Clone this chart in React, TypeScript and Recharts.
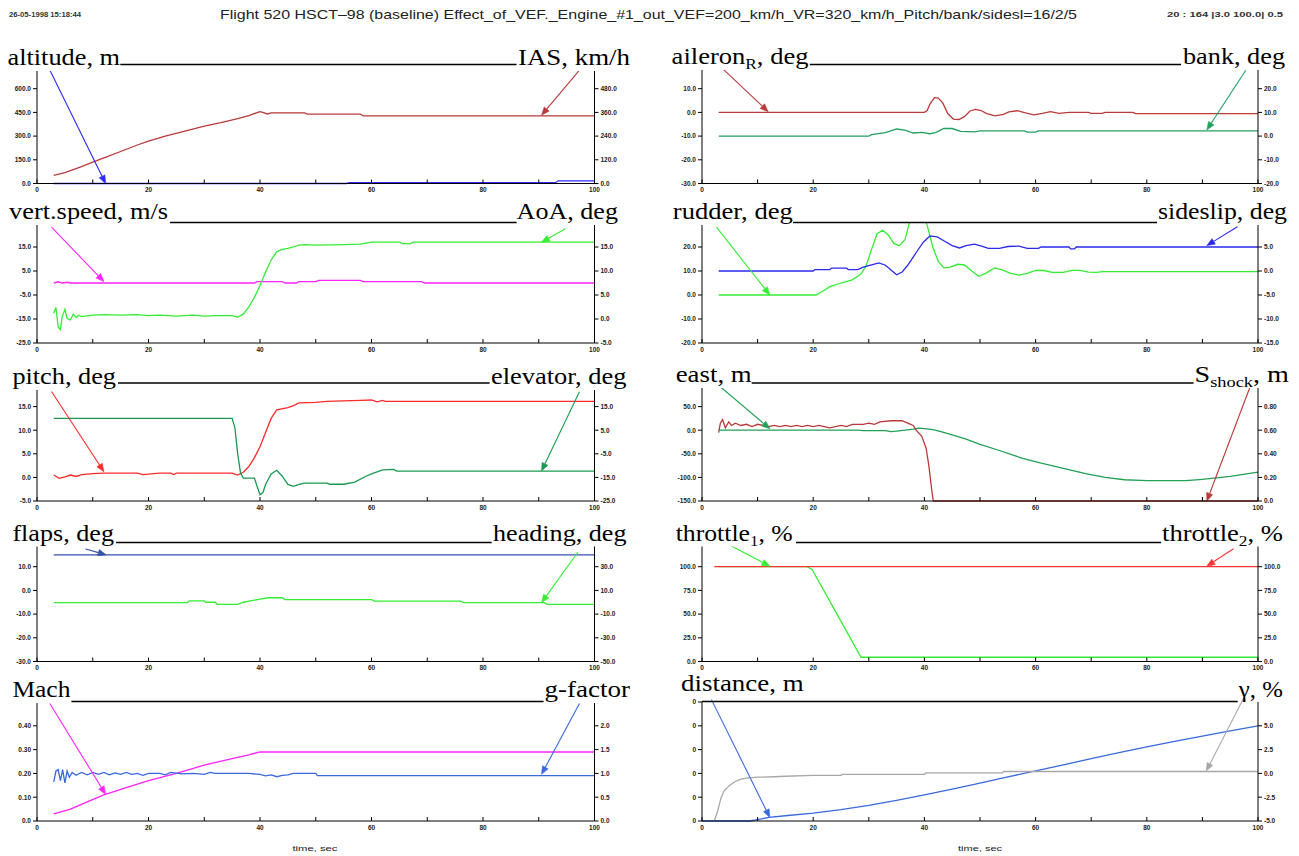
import React from "react";
import { LineChart, Line, XAxis, YAxis, ReferenceLine } from "recharts";

type Pts = [number, number][];

// time (s) / value pairs
const altitude: Pts = [[3, 0], [55.5, 0], [56, 5], [93, 5], [93.5, 17], [100, 17]];
const ias: Pts = [[3, 41], [5, 55], [8, 85], [10, 108], [12, 130], [15, 162], [18, 195], [20, 215], [23, 240], [26, 262], [30, 290], [33, 308], [36, 328], [38, 344], [40, 364], [40.5, 360], [41.3, 352], [42, 358], [48, 358], [48.5, 351], [58, 351], [58.5, 342], [100, 342]];
const vspeed: Pts = [[3, 0], [3.8, 0.5], [4.5, 0], [5.5, 0.3], [6, 0], [39, 0], [39.5, 0.6], [44, 0.6], [44.5, 0], [46.5, 0], [47, 0.6], [50, 0.6], [50.5, 1.1], [58, 1.1], [58.5, 0.6], [69, 0.6], [69.5, 0], [100, 0]];
const aoa: Pts = [[3, 1.2], [3.4, 2.4], [3.8, -1.7], [4.2, -2.2], [4.5, 0.4], [5, 2.0], [5.4, 0.1], [6, -0.2], [6.5, 1.0], [7, 0.3], [7.5, 0.8], [8, 0.5], [10, 0.8], [12, 0.9], [15, 0.8], [18, 0.9], [20, 0.7], [22, 0.8], [25, 0.6], [28, 0.8], [30, 0.6], [32, 0.7], [35, 0.7], [36, 0.4], [37, 1.0], [38, 2.5], [39, 4.5], [40, 7.0], [41, 9.8], [42, 12.3], [43, 14.0], [44, 14.5], [45, 14.7], [46, 15.0], [47, 15.4], [48, 15.5], [50, 15.4], [55, 15.5], [58, 15.6], [60, 16.0], [65, 16.0], [65.5, 15.7], [67, 15.7], [67.5, 16.0], [100, 16.0]];
const pitch: Pts = [[3, 0.5], [4, -0.2], [5, 0.1], [6, 0.5], [7, 0.2], [8, 0.6], [10, 0.8], [12, 0.9], [18, 0.9], [19, 0.6], [22, 0.9], [24, 0.9], [24.5, 0.6], [25, 0.9], [35, 0.9], [36, 0.5], [37, 1.1], [38, 2.3], [39, 4.2], [40, 6.5], [41, 9.5], [42, 12.5], [43, 14.3], [45, 14.8], [46, 15.2], [47, 15.8], [50, 15.9], [52, 16.1], [58, 16.3], [60, 16.4], [61, 16.0], [62, 16.3], [62.5, 16.1], [100, 16.1]];
const elevator: Pts = [[3, 10], [35, 10], [35.5, 6], [36, -5], [36.5, -13], [37, -15.3], [39, -15.3], [39.5, -19], [40, -22.3], [40.5, -21.5], [41, -18], [42, -13.5], [43, -12], [44, -14.5], [45, -18], [46, -18.8], [47, -18], [48, -17.4], [52, -17.4], [52.5, -17.9], [55, -17.9], [57, -17], [59, -14.5], [60, -13.5], [62, -11.8], [64, -11.6], [64.5, -12.3], [100, -12.3]];
const flaps: Pts = [[3, 15], [100, 15]];
const heading: Pts = [[3, -0.3], [27, -0.3], [27.3, 1.2], [30, 1.2], [30.3, 0], [32, 0], [32.3, -1.8], [36, -1.8], [37, 0], [38.5, 1.3], [40, 2.7], [41.5, 3.8], [44, 3.8], [44.5, 2.3], [60, 2.3], [60.5, 1.0], [76, 1.0], [76.5, -0.3], [91, -0.3], [91.5, -1.8], [100, -1.8]];
const mach: Pts = [[3, 0.03], [6, 0.05], [9, 0.08], [12, 0.11], [16, 0.14], [20, 0.17], [25, 0.2], [30, 0.235], [35, 0.262], [38, 0.278], [40, 0.29], [100, 0.29]];
const gfactor: Pts = [[3, 0.82], [3.4, 1.05], [3.8, 1.08], [4.2, 0.85], [4.6, 1.08], [5, 0.8], [5.4, 1.05], [5.8, 0.92], [6.3, 1.02], [7, 0.96], [8, 1.02], [9, 0.97], [10, 1.02], [11, 0.98], [12, 1.02], [13, 0.97], [14, 1.01], [15, 0.98], [16, 1.02], [17, 0.98], [18, 1.0], [19, 0.96], [20, 1.0], [22, 1.0], [23, 0.97], [24, 1.02], [26, 0.99], [28, 1.0], [30, 0.98], [31, 1.02], [32, 1.0], [38, 1.0], [40, 0.98], [41, 0.95], [42, 0.97], [43, 0.93], [44, 0.96], [45, 0.97], [46, 1.0], [50, 1.0], [50.3, 0.955], [100, 0.955]];
const aileron: Pts = [[3, 0], [40, 0], [40.5, 0.8], [41, 3.5], [41.8, 6.2], [42.5, 6.0], [43.3, 4], [44.2, -0.5], [45.2, -2.8], [46.2, -3.0], [47.2, -1.8], [48.2, 0.6], [49.2, 1.3], [50.2, 0.8], [51.2, -0.5], [52.7, -1.5], [54.2, -0.8], [55.2, 0.2], [56.7, 0.7], [58.2, -0.2], [59.7, -1.0], [61.2, -0.4], [62.7, 0.3], [64.2, -0.4], [66, 0], [69.5, 0], [70, -0.4], [72, -0.4], [72.5, 0], [77.5, 0], [78, -0.5], [100, -0.5]];
const bank: Pts = [[3, 0], [30, 0], [30.5, 0.6], [33, 1.5], [35, 3.0], [36.5, 2.5], [38, 1.3], [39.5, 1.6], [41, 1.0], [42, 1.5], [43.5, 3.2], [45, 3.2], [46.5, 2.0], [49, 1.8], [50, 2.2], [58, 2.2], [58.5, 1.7], [60, 1.7], [60.5, 2.2], [100, 2.2]];
const rudder: Pts = [[3, 0], [20.5, 0], [22, 2], [23, 3.5], [25, 5], [27, 6.3], [28.5, 8.5], [29.5, 12], [30.5, 19], [31.5, 25.5], [32.5, 27], [33.5, 25], [34.5, 21.5], [35.5, 20.5], [36.5, 23], [37.3, 30], [38, 36], [39.5, 36], [40.5, 29], [41.5, 20], [42.5, 14], [43.5, 11.3], [44.5, 11.5], [46, 12.8], [47.2, 12.5], [48.5, 10], [49.8, 7.8], [51, 9], [52.6, 11.3], [54, 10.5], [55.5, 9], [57, 8.3], [58.5, 9], [60, 10.3], [61.5, 10.2], [63, 9.4], [65, 9.4], [66.5, 10.3], [68, 10.3], [69.5, 9.5], [71, 9.4], [72, 9.7], [100, 9.7]];
const sideslip: Pts = [[3, 0], [20, 0], [20.3, 0.3], [23, 0.3], [23.3, 0.6], [26, 0.6], [26.3, 0.3], [28, 0.3], [29, 0.8], [30.5, 1.3], [31.8, 1.7], [33, 1.2], [34.2, 0], [35, -0.8], [36, -0.2], [37, 1.2], [38.5, 3.8], [39.8, 6], [41, 7.3], [42.3, 7.1], [43.5, 6.3], [45, 5.3], [46.3, 4.8], [47.5, 5.3], [49, 5.6], [50.3, 5.2], [51.5, 4.7], [53.5, 4.7], [55, 5.1], [57, 5.2], [58.5, 4.7], [60.5, 4.7], [61, 5.0], [66, 5.0], [66.3, 4.6], [67, 4.6], [67.3, 5.0], [100, 5.0]];
const east: Pts = [[3, 0], [28, 0], [29, -0.8], [33, -0.8], [34, -3], [35, -2], [36.5, 0], [38, 2.5], [39, 4.5], [40, 3.5], [41.5, 1], [43, -3], [45, -10], [47.5, -19], [50, -30], [53.5, -43], [57.5, -59], [61, -70], [65, -81], [69, -92], [72.5, -100], [76, -105], [80, -107], [87, -107], [90, -104], [95, -98], [100, -89]];
const sshock: Pts = [[3, 0.58], [3.3, 0.66], [3.7, 0.69], [4.2, 0.62], [4.8, 0.67], [5.3, 0.64], [6, 0.66], [7, 0.64], [8, 0.65], [9, 0.63], [10, 0.65], [11, 0.64], [12, 0.63], [13, 0.64], [14, 0.63], [15, 0.64], [16, 0.63], [17, 0.64], [18, 0.63], [19, 0.64], [20, 0.63], [21, 0.64], [22, 0.63], [23, 0.62], [24, 0.63], [25, 0.64], [26, 0.63], [27, 0.65], [29, 0.65], [30, 0.66], [31, 0.65], [32, 0.67], [34, 0.68], [36, 0.68], [37, 0.66], [38, 0.64], [38.5, 0.6], [39.5, 0.55], [40.3, 0.45], [40.8, 0.3], [41.3, 0.1], [41.6, 0], [100, 0]];
const throttle1: Pts = [[3, 100], [18.9, 100], [19.8, 97], [28.6, 4.5], [100, 4.5]];
const throttle2: Pts = [[2.2, 100], [100, 100]];
const distance: Pts = [[0, 0], [8.5, 0], [10, 60], [12, 150], [15, 220], [20, 330], [25, 480], [30, 660], [35, 870], [40, 1100], [45, 1340], [50, 1590], [55, 1850], [60, 2105], [65, 2360], [70, 2620], [75, 2870], [80, 3110], [85, 3350], [90, 3570], [95, 3790], [100, 4000]];
const gamma: Pts = [[2.2, -5], [2.8, -4], [3.4, -2.6], [4, -1.8], [5, -1.25], [6, -0.85], [7, -0.6], [8, -0.5], [10, -0.4], [13, -0.35], [15, -0.3], [20, -0.2], [25, -0.2], [25.3, -0.1], [40, -0.1], [40.3, 0.05], [54, 0.05], [54.3, 0.2], [100, 0.2]];

// tick values
const timeTicks = [0, 10, 20, 30, 40, 50, 60, 70, 80, 90, 100];
const altitudeTicks = [0, 150, 300, 450, 600];
const iasTicks = [0, 120, 240, 360, 480];
const vspeedTicks = [-25, -15, -5, 5, 15];
const aoaTicks = [-5, 0, 5, 10, 15];
const pitchTicks = [-5, 0, 5, 10, 15];
const elevatorTicks = [-25, -15, -5, 5, 15];
const flapsTicks = [-30, -20, -10, 0, 10];
const headingTicks = [-50, -30, -10, 10, 30];
const machTicks = [0, 0.1, 0.2, 0.3, 0.4];
const gTicks = [0, 0.5, 1, 1.5, 2];
const aileronTicks = [-30, -20, -10, 0, 10];
const bankTicks = [-20, -10, 0, 10, 20];
const rudderTicks = [-20, -10, 0, 10, 20];
const sideslipTicks = [-15, -10, -5, 0, 5];
const eastTicks = [-150, -100, -50, 0, 50];
const shockTicks = [0, 0.2, 0.4, 0.6, 0.8];
const throttleTicks = [0, 25, 50, 75, 100];
const distanceTicks = [0, 1000, 2000, 3000, 4000, 5000];
const gammaTicks = [-5, -2.5, 0, 2.5, 5];

// pointer arrows from the labels to the curves
const altitudeArrow: Pts = [[2.3, 718], [12.3, 0]];
const iasArrow: Pts = [[97.3, 574], [90.5, 346]];
const vspeedArrow: Pts = [[2.6, 23.3], [12, 0.6]];
const aoaArrow: Pts = [[94.8, 18.8], [90.5, 16]];
const pitchArrow: Pts = [[2.6, 18.2], [12, 1.2]];
const elevatorArrow: Pts = [[97.3, 21.3], [90.5, -12.3]];
const flapsArrow: Pts = [[8.7, 17.5], [12.4, 15]];
const headingArrow: Pts = [[97, 42.2], [90.5, -0.3]];
const machArrow: Pts = [[2.3, 0.494], [12.3, 0.112]];
const gArrow: Pts = [[97.3, 2.47], [90.5, 0.98]];
const aileronArrow: Pts = [[3.7, 18.5], [11.9, 0.3]];
const bankArrow: Pts = [[97.8, 27.8], [90.8, 2.6]];
const rudderArrow: Pts = [[2.6, 28.3], [12.2, 0]];
const sideslipArrow: Pts = [[96.3, 9.2], [90.8, 5.3]];
const eastArrow: Pts = [[3.3, 92], [12.2, 3]];
const shockArrow: Pts = [[98.6, 0.97], [90.8, 0]];
const throttle1Arrow: Pts = [[5.2, 122], [12.2, 100.5]];
const throttle2Arrow: Pts = [[95.6, 119], [90.8, 100.5]];
const distanceArrow: Pts = [[1.7, 5100], [12.2, 150]];
const gammaArrow: Pts = [[97.5, 8], [90.7, 0.25]];

const COLS = [
  { x0: 37, x1: 594.5 },
  { x0: 702, x1: 1258 },
];
const ROWS = [
  { y0: 64.5, y1: 183 },
  { y0: 222.5, y1: 342.5 },
  { y0: 383, y1: 501 },
  { y0: 542.5, y1: 661 },
  { y0: 701.5, y1: 820.5 },
];
const AXW = 36;
const TOP = 8;
const TICK_FONT = { fontSize: 6.5, fill: "#222", fontFamily: "Liberation Sans", fontWeight: 700 };

interface Series {
  data: Pts;
  color: string;
  domain: [number, number];
  ticks: number[];
  dec: number;
  arrow: Pts;
  clip?: boolean;
  fmt?: (v: number) => string;
}

interface TitleDef {
  left: React.ReactNode;
  right: React.ReactNode;
  lx: number;
  lw: number;
  lb: number;
  rx: number;
  rw: number;
  rb: number;
  line: [number, number];
  mask?: boolean;
}

interface PanelDef {
  col: number;
  row: number;
  L: Series;
  R: Series;
  title: TitleDef;
}

const sub = (a: string, s: string, b: string) => (
  <>
    {a}
    <tspan dy={5} fontSize={15}>{s}</tspan>
    <tspan dy={-5}>{b}</tspan>
  </>
);

const panels: PanelDef[] = [
  {
    col: 0, row: 0,
    L: { data: altitude, color: "#2a2aff", domain: [0, 750], ticks: altitudeTicks, dec: 1, arrow: altitudeArrow },
    R: { data: ias, color: "#b83a3a", domain: [0, 600], ticks: iasTicks, dec: 1, arrow: iasArrow },
    title: { left: "altitude, m", right: "IAS, km/h", lx: 7.5, lw: 112.5, lb: 65, rx: 518, rw: 112, rb: 65, line: [120.3, 516.6], mask: true },
  },
  {
    col: 0, row: 1,
    L: { data: vspeed, color: "#ff22ff", domain: [-25, 25], ticks: vspeedTicks, dec: 1, arrow: vspeedArrow },
    R: { data: aoa, color: "#33ee33", domain: [-5, 20], ticks: aoaTicks, dec: 1, arrow: aoaArrow },
    title: { left: "vert.speed, m/s", right: "AoA, deg", lx: 9, lw: 159, lb: 219, rx: 516.6, rw: 101.4, rb: 219, line: [170, 516.6], mask: true },
  },
  {
    col: 0, row: 2,
    L: { data: pitch, color: "#ff2a2a", domain: [-5, 20], ticks: pitchTicks, dec: 1, arrow: pitchArrow },
    R: { data: elevator, color: "#1a9a50", domain: [-25, 25], ticks: elevatorTicks, dec: 1, arrow: elevatorArrow },
    title: { left: "pitch, deg", right: "elevator, deg", lx: 12.4, lw: 103.6, lb: 384, rx: 491, rw: 135.5, rb: 384, line: [118, 489.6], mask: true },
  },
  {
    col: 0, row: 3,
    L: { data: flaps, color: "#3552a8", domain: [-30, 20], ticks: flapsTicks, dec: 1, arrow: flapsArrow },
    R: { data: heading, color: "#33ee33", domain: [-50, 50], ticks: headingTicks, dec: 1, arrow: headingArrow },
    title: { left: "flaps, deg", right: "heading, deg", lx: 12.4, lw: 101.6, lb: 540.5, rx: 493, rw: 133.5, rb: 540.5, line: [116, 491.7], mask: true },
  },
  {
    col: 0, row: 4,
    L: { data: mach, color: "#ff22ff", domain: [0, 0.5], ticks: machTicks, dec: 2, arrow: machArrow },
    R: { data: gfactor, color: "#3a68dd", domain: [0, 2.5], ticks: gTicks, dec: 1, arrow: gArrow },
    title: { left: "Mach", right: "g-factor", lx: 12.4, lw: 58, lb: 697, rx: 544.4, rw: 85.6, rb: 697, line: [71.4, 543.6], mask: true },
  },
  {
    col: 1, row: 0,
    L: { data: aileron, color: "#b83a3a", domain: [-30, 20], ticks: aileronTicks, dec: 1, arrow: aileronArrow },
    R: { data: bank, color: "#22a062", domain: [-20, 30], ticks: bankTicks, dec: 1, arrow: bankArrow },
    title: { left: sub("aileron", "R", ", deg"), right: "bank, deg", lx: 671.6, lw: 136.9, lb: 64, rx: 1183, rw: 102, rb: 64, line: [809.8, 1181], mask: true },
  },
  {
    col: 1, row: 1,
    L: { data: rudder, color: "#33ee33", domain: [-20, 30], ticks: rudderTicks, dec: 1, arrow: rudderArrow, clip: true },
    R: { data: sideslip, color: "#2a2aee", domain: [-15, 10], ticks: sideslipTicks, dec: 1, arrow: sideslipArrow },
    title: { left: "rudder, deg", right: "sideslip, deg", lx: 672.8, lw: 120, lb: 219, rx: 1158, rw: 129, rb: 219, line: [793, 1157], mask: true },
  },
  {
    col: 1, row: 2,
    L: { data: east, color: "#22a055", domain: [-150, 100], ticks: eastTicks, dec: 1, arrow: eastArrow },
    R: { data: sshock, color: "#b83a3a", domain: [0, 1], ticks: shockTicks, dec: 2, arrow: shockArrow },
    title: { left: "east, m", right: sub("S", "shock", ", m"), lx: 675.7, lw: 76, lb: 382, rx: 1194.5, rw: 94.5, rb: 382, line: [751.7, 1193.6], mask: true },
  },
  {
    col: 1, row: 3,
    L: { data: throttle1, color: "#33ee33", domain: [0, 125], ticks: throttleTicks, dec: 1, arrow: throttle1Arrow },
    R: { data: throttle2, color: "#ff3333", domain: [0, 125], ticks: throttleTicks, dec: 1, arrow: throttle2Arrow },
    title: { left: sub("throttle", "1", ", %"), right: sub("throttle", "2", ", %"), lx: 675.7, lw: 117, lb: 540.5, rx: 1162, rw: 121, rb: 540.5, line: [796, 1161], mask: true },
  },
  {
    col: 1, row: 4,
    L: { data: distance, color: "#3a68dd", domain: [0, 5000], ticks: distanceTicks, dec: 0, arrow: distanceArrow, fmt: () => "0" },
    R: { data: gamma, color: "#a8a8a8", domain: [-5, 7.5], ticks: gammaTicks, dec: 1, arrow: gammaArrow },
    title: { left: "distance, m", right: "γ, %", lx: 681, lw: 122.6, lb: 691, rx: 1238.8, rw: 44, rb: 697, line: [702, 1237.7] },
  },
];

const fmtOf = (s: Series) => s.fmt ?? ((v: number) => (v === 0 ? "0.0" : v.toFixed(s.dec)));
const pts = (d: Pts) => d.map(([t, v]) => ({ t, v }));

const arrowShape = (color: string) => (props: any) => {
  const { x1, y1, x2, y2 } = props;
  const a = Math.atan2(y2 - y1, x2 - x1);
  const len = 8;
  const w = 3.2;
  const bx = x2 - len * Math.cos(a);
  const by = y2 - len * Math.sin(a);
  const p = `${x2},${y2} ${bx - w * Math.sin(a)},${by + w * Math.cos(a)} ${bx + w * Math.sin(a)},${by - w * Math.cos(a)}`;
  return (
    <g>
      <line x1={x1} y1={y1} x2={bx} y2={by} stroke={color} strokeWidth={1.1} />
      <polygon points={p} fill={color} stroke={color} strokeWidth={0.6} />
    </g>
  );
};

const TimeTick = (props: any) => {
  const { x, y, payload } = props;
  const v = payload.value as number;
  return (
    <g>
      <line x1={x} x2={x} y1={y} y2={y - 4} stroke="#000" strokeWidth={1} />
      {v % 20 === 0 && (
        <text x={x} y={y + 8.5} textAnchor="middle" {...TICK_FONT}>
          {v}
        </text>
      )}
    </g>
  );
};

function Panel({ p }: { p: PanelDef }) {
  const c = COLS[p.col];
  const r = ROWS[p.row];
  const plotW = c.x1 - c.x0;
  const plotH = r.y1 - r.y0;
  const side = (id: "L" | "R", s: Series) => (
    <YAxis
      key={id}
      yAxisId={id}
      orientation={id === "L" ? "left" : "right"}
      type="number"
      width={AXW}
      domain={s.domain}
      ticks={s.ticks}
      interval={0}
      allowDataOverflow={!!s.clip}
      stroke="#000"
      tickSize={4}
      tickMargin={2}
      tick={TICK_FONT}
      tickFormatter={fmtOf(s)}
    />
  );
  const arrow = (id: "L" | "R", s: Series) => (
    <ReferenceLine
      key={"a" + id}
      yAxisId={id}
      segment={[
        { x: s.arrow[0][0], y: s.arrow[0][1] },
        { x: s.arrow[1][0], y: s.arrow[1][1] },
      ]}
      ifOverflow="visible"
      shape={arrowShape(s.color)}
    />
  );
  return (
    <div style={{ position: "absolute", left: c.x0 - AXW, top: r.y0 - TOP }}>
      <LineChart width={plotW + 2 * AXW} height={plotH + TOP + 16} margin={{ top: TOP, right: 0, bottom: 0, left: 0 }}>
        <XAxis
          type="number"
          dataKey="t"
          domain={[0, 100]}
          ticks={timeTicks}
          interval={0}
          height={16}
          stroke="#000"
          tickLine={false}
          tickSize={0}
          tickMargin={0}
          tick={<TimeTick />}
        />
        {side("L", p.L)}
        {side("R", p.R)}
        <Line yAxisId="L" data={pts(p.L.data)} dataKey="v" type="linear" stroke={p.L.color} strokeWidth={1.3} dot={false} isAnimationActive={false} />
        <Line yAxisId="R" data={pts(p.R.data)} dataKey="v" type="linear" stroke={p.R.color} strokeWidth={1.3} dot={false} isAnimationActive={false} />
        {arrow("L", p.L)}
        {arrow("R", p.R)}
      </LineChart>
    </div>
  );
}

function Title({ t, y }: { t: TitleDef; y: number }) {
  return (
    <g>
      {t.mask && (
        <>
          <rect x={t.lx - 1} y={t.lb - 19} width={t.lw + 2} height={25} fill="#fff" />
          <rect x={t.rx - 1} y={t.rb - 19} width={t.rw + 2} height={25} fill="#fff" />
        </>
      )}
      <line x1={t.line[0]} x2={t.line[1]} y1={y} y2={y} stroke="#000" strokeWidth={1.3} />
      <text x={t.lx} y={t.lb} textLength={t.lw} lengthAdjust="spacingAndGlyphs">
        {t.left}
      </text>
      <text x={t.rx} y={t.rb} textLength={t.rw} lengthAdjust="spacingAndGlyphs">
        {t.right}
      </text>
    </g>
  );
}

export default function App() {
  return (
    <div
      style={{
        position: "absolute",
        left: 0,
        top: 0,
        width: 1299,
        height: 856,
        background: "#fff",
        overflow: "hidden",
        fontFamily: "Liberation Sans",
      }}
    >
      {panels.map((p, i) => (
        <Panel key={i} p={p} />
      ))}
      <svg width={1299} height={856} style={{ position: "absolute", left: 0, top: 0, pointerEvents: "none" }}>
        <text x={9} y={16.5} fontSize={7} fontWeight={700} fill="#333" textLength={72} lengthAdjust="spacingAndGlyphs">
          26-05-1998 15:18:44
        </text>
        <text x={220} y={18.5} fontSize={13.5} fill="#222" textLength={857} lengthAdjust="spacingAndGlyphs">
          Flight 520 HSCT–98 (baseline) Effect_of_VEF._Engine_#1_out_VEF=200_km/h_VR=320_km/h_Pitch/bank/sidesl=16/2/5
        </text>
        <text x={1167} y={16.5} fontSize={7} fontWeight={700} fill="#333" textLength={116} lengthAdjust="spacingAndGlyphs">
          20 : 164   |3.0 100.0| 0.5
        </text>
        <g fontFamily="Liberation Serif" fontSize={23} fill="#000">
          {panels.map((p, i) => (
            <Title key={i} t={p.title} y={ROWS[p.row].y0} />
          ))}
        </g>
        <text x={292.5} y={851} fontSize={7.5} fill="#222" textLength={45} lengthAdjust="spacingAndGlyphs">
          time, sec
        </text>
        <text x={958} y={851} fontSize={7.5} fill="#222" textLength={44} lengthAdjust="spacingAndGlyphs">
          time, sec
        </text>
      </svg>
    </div>
  );
}
